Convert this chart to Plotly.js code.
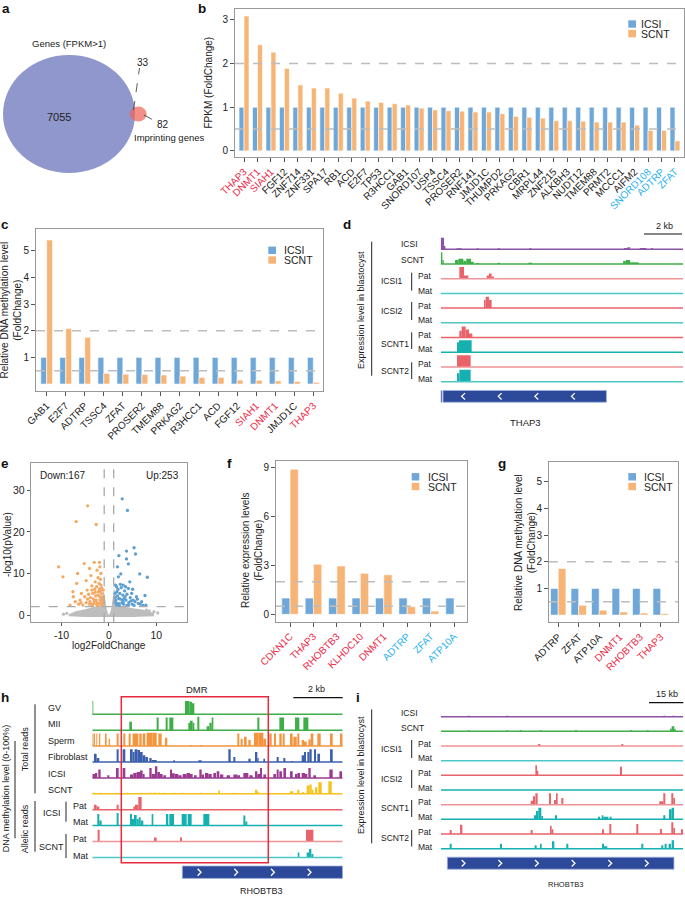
<!DOCTYPE html>
<html><head><meta charset="utf-8">
<script src="https://cdn.plot.ly/plotly-3.0.1.min.js"></script>
<style>html,body{margin:0;padding:0;background:#fff}#chart{width:685px;height:907px}</style>
</head><body><div id="chart"></div>
<script>
// ================= DATA =================
// a: Venn counts
const vennGenesOnly = 7055, vennOverlap = 33, vennImprintOnly = 82;

// b: FPKM fold change
const bGenes = ['THAP3','DNMT1','SIAH1','FGF12','ZNF714','ZNF331','SPA17','RB1','ACD','E2F7','TP53','R3HCC1','GAB1','SNORD107','USP4','TSSC4','PROSER2','RNF141','JMJD1C','THUMPD2','PRKAG2','CBR1','MRPL44','ZNF215','ALKBH3','NUDT12','TMEM88','PRMT2','MCCC1','AIFM2','SNORD108','ADTRP','ZFAT'];
const bICSI = [1,1,1,1,1,1,1,1,1,1,1,1,1,1,1,1,1,1,1,1,1,1,1,1,1,1,1,1,1,1,1,1,1];
const bSCNT = [3.09,2.43,2.26,1.89,1.51,1.44,1.44,1.32,1.21,1.14,1.11,1.08,1.05,0.98,0.94,0.92,0.91,0.89,0.89,0.85,0.79,0.77,0.75,0.69,0.69,0.68,0.66,0.66,0.66,0.59,0.47,0.47,0.23];
const bRed = ['THAP3','DNMT1','SIAH1'];
const bSky = ['SNORD108','ADTRP','ZFAT'];

// c: DNA methylation fold change
const cGenes = ['GAB1','E2F7','ADTRP','TSSC4','ZFAT','PROSER2','TMEM88','PRKAG2','R3HCC1','ACD','FGF12','SIAH1','DNMT1','JMJD1C','THAP3'];
const cICSI = [1,1,1,1,1,1,1,1,1,1,1,1,1,1,1];
const cSCNT = [5.4,2.08,1.75,0.4,0.37,0.36,0.34,0.3,0.25,0.25,0.15,0.14,0.12,0.1,0.07];
const cRed = ['SIAH1','DNMT1','THAP3'];

// f: relative expression
const fGenes = ['CDKN1C','THAP3','RHOBTB3','KLHDC10','DNMT1','ADTRP','ZFAT','ATP10A'];
const fICSI = [1,1,1,1,1,1,1,1];
const fSCNT = [8.9,3.07,2.97,2.52,2.43,0.47,0.2,0.03];
const fRed = ['CDKN1C','THAP3','RHOBTB3','KLHDC10','DNMT1'];
const fSky = ['ADTRP','ZFAT','ATP10A'];

// g: DNA methylation
const gGenes = ['ADTRP','ZFAT','ATP10A','DNMT1','RHOBTB3','THAP3'];
const gICSI = [1,1,1,1,1,1];
const gSCNT = [1.75,0.37,0.18,0.12,0.08,0.06];
const gRed = ['DNMT1','RHOBTB3','THAP3'];

// e: volcano
const downX = [-4.5,-6.9,-2.7,-10.6,-9.7,-6.6,-5.2,-3.1,-2.0,-4.1,-1.9,-1.7,-2.5,-4.8,-6.8,-7.6,-7.5,-7.1,-6.1,-5.1,-4.6,-3.6,-2.9,-2.6,-3.4,-2.2,-1.9,-2.7,-4.0,-2.0,-1.5,-1.3,-3.2,-4.8,-1.2,-1.7,-3.8,-2.3,-5.8,-6.4,-5.5,-3.5,-2.4,-1.4,-1.6,-2.8,-3.9,-4.3,-3.0,-2.1,-1.8,-4.5,-3.3,-2.5,-1.9,-1.4,-3.7,-5.9,-8.2,-2.9,-2.3,-1.6,-2.6,-3.1,-1.3,-4.1,-1.8,-1.5,-2.0,-3.6];
const downY = [26.3,22.5,21.8,11.6,9.2,10.0,12.4,12.7,12.7,11.2,11.6,10.0,10.8,8.3,7.6,5.6,4.4,3.2,3.6,4.4,6.0,7.0,8.0,6.8,5.2,5.6,4.4,3.6,3.2,2.8,3.2,4.4,2.8,3.0,6.0,7.2,9.5,9.0,5.2,2.6,2.4,2.3,2.2,2.4,5.2,4.6,4.2,5.0,6.2,7.6,8.6,3.8,3.9,3.0,3.6,2.9,2.6,3.0,2.4,5.5,4.8,4.1,2.5,3.4,3.6,2.6,5.8,6.5,6.3,6.0];
const upX = [2.8,3.9,5.3,3.7,5.6,2.1,3.7,4.1,1.8,6.5,8.1,2.0,2.5,1.6,3.0,4.1,4.8,5.8,7.6,6.9,6.2,5.1,3.4,2.3,1.5,2.0,3.0,4.1,1.3,4.4,1.4,1.9,2.6,3.3,3.8,4.5,5.5,6.6,7.2,1.6,2.4,2.9,3.6,4.2,4.9,5.3,1.3,1.8,2.2,3.1,3.8,1.4,2.7,2.4,3.5,5.0,1.7,2.9,4.6,6.0,7.8,3.2,2.1];
const upY = [28.0,25.2,16.2,15.4,14.7,14.3,13.5,12.3,11.6,9.9,9.1,9.2,9.9,6.8,7.2,6.4,5.2,4.4,4.7,3.2,2.8,3.6,4.4,5.2,3.6,2.8,3.2,2.4,5.2,8.0,7.2,6.2,6.6,5.8,5.0,4.2,3.2,2.6,2.3,2.4,3.8,4.8,3.6,3.0,2.6,2.3,4.2,4.6,2.3,2.6,2.3,3.0,2.9,7.4,6.8,6.2,5.6,3.6,3.4,3.8,2.4,4.0,4.0];
const nsCloudX = [-8.5,-7,-5,-3.5,-2,-1.5,-1.25,-1.05,-0.8,-0.5,-0.2,0,0.2,0.5,0.8,1.05,1.25,1.5,2,3.5,5,7,8.5,9.5,9.5,5,0,-5,-8.5];
const nsCloudY = [0.2,0.9,1.4,1.8,2.3,3.0,5.5,5.8,3.5,1.5,0.4,0,0.4,1.6,4.0,6.5,5.8,3.2,2.3,1.9,1.6,1.3,0.9,0.5,-0.3,-0.5,-0.5,-0.5,-0.3];
const nsPtsX = [7.9,8.5,9.5,10.3,-8.9,-9.6];
const nsPtsY = [1.2,1.0,0.8,0.5,0.4,0.2];

// d: THAP3 tracks [start, end, height] (bin units)
const dICSI = [[287,297,35],[297,301,10],[335,350,3],[395,401,3],[458,465,3],[553,560,3],[838,848,4],[848,856,6],[885,905,4],[918,925,3]];
const dSCNT = [[287,292,35],[292,296,12],[330,340,12],[340,355,16],[355,364,10],[364,378,16],[378,386,7],[395,402,3],[458,465,4],[550,562,4],[835,843,9],[843,856,12],[856,882,5]];
const dICSI1Pat = [[343,357,35],[357,370,10],[425,432,10],[432,440,16],[440,447,7]];
const dICSI1Mat = [];
const dICSI2Pat = [[417,422,24],[422,432,34],[432,440,24]];
const dICSI2Mat = [];
const dSCNT1Pat = [[343,350,20],[350,362,33],[362,372,24],[372,382,12]];
const dSCNT1Mat = [[336,342,30],[342,380,36]];
const dSCNT2Pat = [[336,377,35]];
const dSCNT2Mat = [[336,343,25],[343,377,36]];
const dGene = [[287,291],[294,785]];
const dChevrons = [355,465,575,685];

// h: RHOBTB3 methylation tracks
const hGV = [[277,280,40],[555,568,40],[568,576,38],[576,583,33]];
const hMII = [[388,396,25],[470,476,38],[497,503,38],[508,520,38],[565,570,22],[570,578,28],[578,583,22],[592,598,40],[620,628,12],[628,635,22],[635,640,38],[772,778,38],[838,852,38],[885,898,38],[910,925,38]];
const hSperm = [[277,280,38],[281,285,38],[289,292,38],[297,301,38],[315,320,38],[326,330,22],[350,356,38],[370,376,38],[386,392,38],[398,405,38],[405,415,38],[418,425,38],[428,436,38],[440,458,40],[458,470,40],[475,485,38],[495,502,25],[570,576,3],[600,606,3],[712,718,38],[722,728,22],[732,740,28],[745,752,18],[762,776,40],[776,790,40],[790,798,22],[808,815,38],[822,828,38],[838,845,38],[848,854,38],[870,878,38],[880,890,28],[892,898,38],[905,912,18],[912,920,14],[925,932,20],[932,940,38],[952,962,38],[990,998,38],[1020,1028,38]];
const hFibro = [[282,290,25],[290,298,12],[350,356,38],[368,376,38],[390,398,38],[398,404,30],[404,412,38],[412,420,36],[420,428,30],[428,436,20],[436,444,15],[448,455,12],[455,470,6],[520,525,5],[595,605,5],[685,692,38],[700,706,15],[745,752,10],[765,772,30],[772,776,12],[790,795,10],[830,836,15],[850,856,12],[872,878,3],[905,912,20],[912,918,30],[922,928,30],[928,935,38],[942,948,38],[952,960,25],[990,998,38]];
const hICSI = [[277,285,12],[285,292,15],[295,302,25],[322,328,8],[348,356,30],[368,376,30],[390,400,10],[400,410,15],[410,420,18],[420,428,22],[428,434,12],[448,455,30],[455,465,12],[465,472,35],[472,480,18],[480,488,12],[490,498,8],[510,516,25],[516,524,14],[524,535,12],[535,545,8],[548,560,12],[560,570,15],[570,578,12],[582,590,8],[598,605,25],[605,612,10],[615,625,15],[625,635,12],[640,648,15],[650,658,20],[660,670,10],[680,690,8],[700,712,10],[712,720,8],[730,745,15],[748,758,8],[765,772,20],[772,780,12],[780,786,30],[790,798,10],[820,828,12],[830,836,25],[838,846,20],[850,858,30],[870,878,20],[885,892,12],[892,900,15],[905,915,15],[915,922,12],[925,932,30],[940,948,8],[988,998,25],[1018,1026,20]];
const hSCNT = [[277,282,3],[300,305,3],[350,355,3],[380,385,3],[420,425,3],[445,455,3],[460,470,3],[475,480,3],[490,495,3],[520,525,3],[545,550,3],[600,605,3],[655,660,10],[700,705,3],[765,772,12],[772,778,5],[870,880,8],[892,898,12],[905,912,5],[920,928,25],[928,935,28],[935,940,12],[945,952,20],[955,965,35],[985,995,38]];
const hICSIPat = [[282,290,15],[290,298,10],[350,356,15],[400,405,10],[405,415,15],[415,425,38]];
const hICSIMat = [[292,298,35],[298,305,15],[350,356,38],[390,396,35],[396,402,20],[402,410,32],[410,416,20],[416,422,25],[422,430,15],[455,460,35],[498,505,35],[508,522,35],[545,560,35],[563,575,35],[610,628,35],[730,736,30],[736,742,12]];
const hSCNTPat = [[293,299,35],[462,470,12],[540,546,12],[918,940,35]];
const hSCNTMat = [[893,898,15],[920,927,15],[927,934,25],[934,940,10]];
const hGene = [[547,1028]];
const hChevrons = [598,708,818,928];

// i: RHOBTB3 expression tracks
const iICSI = [[368,374,3],[484,490,3],[955,962,3],[982,990,3]];
const iSCNT = [[368,374,3],[484,490,3],[524,530,3],[584,590,3],[690,696,3],[855,861,3],[905,911,3],[975,980,8],[980,988,15],[988,992,8]];
const iICSI1Pat = [[579,586,6],[829,835,6]];
const iICSI1Mat = [];
const iICSI2Pat = [[571,576,30],[576,580,14],[825,831,26]];
const iICSI2Mat = [];
const iSCNT1Pat = [[557,564,12],[564,570,25],[571,578,34],[612,618,34],[627,633,14],[633,638,34],[649,655,20],[943,955,10],[955,961,34],[979,985,34],[985,990,20]];
const iSCNT1Mat = [[567,573,12],[573,580,25],[580,589,35],[589,594,10],[630,636,12],[759,765,8],[770,775,12],[775,790,8],[794,800,8],[955,961,12],[972,980,30],[980,987,35]];
const iSCNT2Pat = [[314,320,12],[345,352,28],[557,563,12],[615,620,25],[620,625,14],[771,777,14],[793,799,30],[874,880,30],[945,951,15],[979,985,35],[985,990,18],[1008,1015,14]];
const iSCNT2Mat = [[314,320,15],[465,471,15],[569,575,10],[585,590,15],[621,628,22],[664,670,15],[771,777,15],[777,787,7],[889,895,15],[949,955,10],[959,965,15],[971,978,15],[980,987,25]];
const iGene = [[307,987]];
const iChevrons = [355,465,575,685,795,905];

// ================= STYLE / HELPERS =================
const W=685,H=907;
const PX=x=>x/W, PY=y=>1-y/H;
const FONT='Liberation Sans, Arial, Helvetica, sans-serif';
const RED='#ee2a48', SKY='#1fb1ee', BLUE='#6fa8d8', ORANGE='#f6b577', TXT='#222';
const PUR='#8b53a3', GRN='#3fae49', PAT='#e8636a', MAT='#17b0b0', PATL='#f09396', MATL='#4cc7c7', GENE='#2d4a9a';
const annotations=[], shapes=[], traces=[];
const layout={width:W,height:H,margin:{l:0,r:0,t:0,b:0},paper_bgcolor:'#fff',plot_bgcolor:'rgba(0,0,0,0)',barmode:'overlay',showlegend:false,font:{family:FONT,color:TXT,size:10}};

function A(text,x,y,o={}){annotations.push({text,x:PX(x),y:PY(y),xref:'paper',yref:'paper',showarrow:false,xanchor:o.xa||'center',yanchor:o.ya||'middle',textangle:o.angle||0,align:'center',borderpad:0,font:{family:FONT,size:o.size||10,color:o.color||TXT}});}
function L(x0,y0,x1,y1,color='#222',width=1,dash='solid'){shapes.push({type:'line',xref:'paper',yref:'paper',x0:PX(x0),y0:PY(y0),x1:PX(x1),y1:PY(y1),line:{color,width,dash}});}
function R(x0,y0,x1,y1,fill,lc,lw=0){shapes.push({type:'rect',xref:'paper',yref:'paper',x0:PX(x0),y0:PY(y0),x1:PX(x1),y1:PY(y1),fillcolor:fill,line:{color:lc||fill,width:lw}});}
function colorLabel(c,red,sky){ if(red&&red.includes(c)) return `<span style="color:${RED}">${c}</span>`; if(sky&&sky.includes(c)) return `<span style="color:${SKY}">${c}</span>`; return c; }

function barPanel(ax,cats,icsi,scnt,red,sky,w,dom,xr,yr,yticks){
  const xa='x'+ax, ya='y'+ax;
  traces.push({type:'bar',x:cats,y:icsi,xaxis:xa,yaxis:ya,width:w,offset:-w,marker:{color:BLUE,line:{color:'#ffffff',width:0.6}},hoverinfo:'skip'});
  traces.push({type:'bar',x:cats,y:scnt,xaxis:xa,yaxis:ya,width:w,offset:0,marker:{color:ORANGE,line:{color:'#ffffff',width:0.6}},hoverinfo:'skip'});
  const axCommon={showline:true,mirror:true,linecolor:'#999',linewidth:1,ticks:'outside',ticklen:4,tickcolor:'#555',showgrid:false,zeroline:false,fixedrange:true,tickfont:{family:FONT,size:10,color:TXT}};
  layout['xaxis'+ax]=Object.assign({},axCommon,{domain:[PX(dom[0]),PX(dom[1])],anchor:ya,type:'category',range:xr,tickmode:'array',tickvals:cats,ticktext:cats.map(c=>colorLabel(c,red,sky)),tickangle:-45});
  layout['yaxis'+ax]=Object.assign({},axCommon,{domain:[PY(dom[3]),PY(dom[2])],anchor:xa,range:yr,tickmode:'array',tickvals:yticks});
  [2,0.5].forEach(v=>shapes.push({type:'line',xref:xa+' domain',x0:0,x1:1,yref:ya,y0:v,y1:v,line:{color:'#bdbdbd',width:1.4,dash:'dash'}}));
}
function legendBox(x0,x1,yI,yS,tx,size){
  R(x0,yI-3.7,x1,yI+3.7,BLUE); R(x0,yS-3.7,x1,yS+3.7,ORANGE);
  A('ICSI',tx,yI,{xa:'left',size}); A('SCNT',tx,yS,{xa:'left',size});
}
function trackPanel(ax,tracks,colors,lineColors,xr,dom,yr,unit,gene,chev,dir,geneRow,geneHalf){
  const xa='x'+ax, ya='y'+ax;
  layout['xaxis'+ax]={domain:[PX(dom[0]),PX(dom[1])],range:xr,visible:false,anchor:ya,fixedrange:true};
  layout['yaxis'+ax]={domain:[PY(dom[3]),PY(dom[2])],range:yr,visible:false,anchor:xa,fixedrange:true};
  tracks.forEach((pk,i)=>{
    shapes.push({type:'line',xref:xa,yref:ya,x0:xr[0],x1:xr[1],y0:i,y1:i,line:{color:lineColors[i],width:1.5}});
    if(pk.length) traces.push({type:'bar',xaxis:xa,yaxis:ya,x:pk.map(p=>p[0]),width:pk.map(p=>p[1]-p[0]),offset:0,base:i,y:pk.map(p=>-p[2]/unit),marker:{color:colors[i],line:{width:0}},hoverinfo:'skip'});
  });
  traces.push({type:'bar',xaxis:xa,yaxis:ya,x:gene.map(g=>g[0]),width:gene.map(g=>g[1]-g[0]),offset:0,base:geneRow+geneHalf,y:gene.map(()=>-2*geneHalf),marker:{color:GENE,line:{color:'#9fb0e0',width:0.8}},hoverinfo:'skip'});
  const cx=[],cy=[];
  chev.forEach(c=>{cx.push(c-5*dir,c+5*dir,c-5*dir,null);cy.push(geneRow-0.22,geneRow,geneRow+0.22,null);});
  traces.push({type:'scatter',mode:'lines',xaxis:xa,yaxis:ya,x:cx,y:cy,line:{color:'#ffffff',width:1.3},hoverinfo:'skip'});
}

// ================= PANEL a: Venn =================
(function(){
  const k=66/Math.sqrt(vennGenesOnly+vennOverlap), asp=0.894;
  const rB=k*Math.sqrt(vennGenesOnly+vennOverlap), rS=k*Math.sqrt(vennImprintOnly+vennOverlap);
  const cBx=69,cBy=114,cSx=138.3,cSy=114;
  shapes.push({type:'circle',xref:'paper',yref:'paper',x0:PX(cBx-rB),x1:PX(cBx+rB),y0:PY(cBy+rB*asp),y1:PY(cBy-rB*asp),fillcolor:'#8f97cc',line:{width:0}});
  shapes.push({type:'circle',xref:'paper',yref:'paper',x0:PX(cSx-rS),x1:PX(cSx+rS),y0:PY(cSy+rS*asp),y1:PY(cSy-rS*asp),fillcolor:'rgba(240,100,90,0.72)',line:{width:0}});
  A('Genes (FPKM>1)',69,43,{size:9.5});
  A(String(vennGenesOnly),59,117,{size:11});
  A(String(vennOverlap),143,62,{size:10});
  A(String(vennImprintOnly),163,124,{size:10});
  A('Imprinting genes',133,137,{xa:'left',size:9.5});
  L(133.5,110,139.5,68,'#333',0.8,'dash');
  L(144,115,156,121.5,'#333',0.8,'dash');
})();

// ================= PANEL b =================
barPanel(2,bGenes,bICSI,bSCNT,bRed,bSky,0.37,[235,684,9,157],[-0.67,32.67],[-0.14,3.25],[0,1,2,3]);
A('FPKM (FoldChange)',208.5,83,{angle:-90,size:10});
legendBox(628.3,636,24,33.6,639.5,10.5);

// ================= PANEL c =================
barPanel(3,cGenes,cICSI,cSCNT,cRed,null,0.31,[36,323,229,391],[-0.56,14.51],[-0.26,5.81],[1,2,3,4,5]);
A('Relative DNA methylation level<br>(FoldChange)',10.5,310,{angle:-90,size:10});
legendBox(268.3,276,250.3,260,283,10.5);

// ================= PANEL f =================
barPanel(6,fGenes,fICSI,fSCNT,fRed,fSky,0.355,[276,466.7,460.7,621.7],[-0.6,7.54],[-0.45,9.43],[0,3,6,9]);
A('Relative expression levels<br>(FoldChange)',252,550,{angle:-90,size:10});
legendBox(411.7,419.3,476.8,486.5,426.7,10.5);

// ================= PANEL g =================
barPanel(7,gGenes,gICSI,gSCNT,gRed,null,0.375,[549,678.3,461.7,622.3],[-0.45,5.86],[-0.27,5.75],[1,2,3,4,5]);
A('Relative DNA methylation level<br>(FoldChange)',525,543,{angle:-90,size:10});
legendBox(628.3,636,476.8,486.5,642.7,10.5);

// ================= PANEL e: volcano =================
(function(){
  const xa='x5',ya='y5';
  traces.push({type:'scatter',mode:'lines',x:nsCloudX,y:nsCloudY,fill:'toself',fillcolor:'#bdbdbd',line:{width:0,color:'#bdbdbd'},xaxis:xa,yaxis:ya,hoverinfo:'skip'});
  traces.push({type:'scatter',mode:'markers',x:nsPtsX,y:nsPtsY,marker:{color:'#bdbdbd',size:3.2},xaxis:xa,yaxis:ya,hoverinfo:'skip'});
  traces.push({type:'scatter',mode:'markers',x:downX,y:downY,marker:{color:'#f5a862',size:3.3},xaxis:xa,yaxis:ya,hoverinfo:'skip'});
  traces.push({type:'scatter',mode:'markers',x:upX,y:upY,marker:{color:'#5d9fd3',size:3.3},xaxis:xa,yaxis:ya,hoverinfo:'skip'});
  const axC={showline:true,mirror:true,linecolor:'#999',linewidth:1,ticks:'outside',ticklen:3,tickcolor:'#555',showgrid:false,zeroline:false,fixedrange:true,tickfont:{family:FONT,size:10.5,color:TXT}};
  layout.xaxis5=Object.assign({},axC,{domain:[PX(30.7),PX(186.7)],anchor:ya,range:[-16.5,16.4],tickmode:'array',tickvals:[-10,0,10],ticktext:['-10','0','10']});
  layout.yaxis5=Object.assign({},axC,{domain:[PY(622.3),PY(463.3)],anchor:xa,range:[-1.76,36.55],tickmode:'array',tickvals:[0,10,20,30]});
  [-1,1].forEach(v=>shapes.push({type:'line',xref:xa,x0:v,x1:v,yref:ya+' domain',y0:0,y1:1,line:{color:'#aaaaaa',width:1.3,dash:'dash'}}));
  shapes.push({type:'line',xref:xa+' domain',x0:0,x1:1,yref:ya,y0:2,y1:2,line:{color:'#aaaaaa',width:1.3,dash:'dash'}});
  A('Down:167',63,475,{size:10}); A('Up:253',162,475,{size:10});
  A('log2FoldChange',109,645,{size:10});
  A('-log10(pValue)',7,545,{angle:-90,size:10});
})();

// ================= PANEL d =================
trackPanel(4,[dICSI,dSCNT,dICSI1Pat,dICSI1Mat,dICSI2Pat,dICSI2Mat,dSCNT1Pat,dSCNT1Mat,dSCNT2Pat,dSCNT2Mat],
  [PUR,GRN,PAT,MAT,PAT,MAT,PAT,MAT,PAT,MAT],[PUR,GRN,PATL,MATL,PAT,MATL,PAT,MAT,PATL,MATL],
  [287,1015],[440.7,683,234.6,404],[10.52,-1],44.1,dGene,dChevrons,-1,10.0,0.4);
(function(){
  const s=8.5;
  A('ICSI',400,244,{xa:'left',size:s}); A('SCNT',400,260.3,{xa:'left',size:s});
  [['ICSI1',281.3,276,290.7,272.7,290.7],['ICSI2',311,305.7,320,302,320],['SCNT1',344.3,335,349.3,332.3,349],['SCNT2',370.7,364.3,379.3,362.3,379]].forEach(r=>{
    A(r[0],379.7,r[1],{xa:'left',size:s}); A('Pat',417.3,r[2],{xa:'left',size:s}); A('Mat',417.3,r[3],{xa:'left',size:s});
    L(411.7,r[4],411.7,r[5],'#222',1);
  });
  L(371.7,241.7,371.7,375.7,'#222',1);
  A('Expression level in blastocyst',361,310,{angle:-90,size:9});
  A('THAP3',525,422.7,{size:9.5});
  L(644,234,682,234,'#111',1.2); A('2 kb',664,226,{size:9});
})();

// ================= PANEL h =================
trackPanel(8,[hGV,hMII,hSperm,hFibro,hICSI,hSCNT,hICSIPat,hICSIMat,hSCNTPat,hSCNTMat],
  [GRN,GRN,'#f4943c','#3b5fae','#9a3b8f','#f5c21b',PAT,MAT,PAT,MAT],[GRN,GRN,'#f4943c','#3b5fae','#9a3b8f','#f5c21b',PAT,MAT,PATL,MATL],
  [277,1028],[92.3,342.7,698.4,880],[10.42,-1],47.7,hGene,hChevrons,1,9.93,0.39);
(function(){
  const s=9;
  [['GV',707.7],['MII',724.3],['Sperm',741],['Fibroblast',757.3],['ICSI',773.7],['SCNT',790.3]].forEach(r=>A(r[0],47.3,r[1],{xa:'left',size:s}));
  A('ICSI',51.7,813,{size:s}); A('Pat',71.7,805.7,{xa:'left',size:s}); A('Mat',71.7,822.3,{xa:'left',size:s});
  A('SCNT',51,846.7,{size:s}); A('Pat',71.7,839,{xa:'left',size:s}); A('Mat',71.7,855.7,{xa:'left',size:s});
  L(66,801.7,66,821.7,'#222',1); L(66,834,66,858,'#222',1);
  L(35,704.3,35,793.3,'#222',1); L(35,801,35,851.7,'#222',1); L(15,741,15,838.3,'#222',1);
  A('Total reads',25,748.3,{angle:-90,size:s});
  A('Allelic reads',25,828.3,{angle:-90,size:s});
  A('DNA methylation level (0-100%)',6,788.3,{angle:-90,size:s});
  shapes.push({type:'rect',xref:'paper',yref:'paper',x0:PX(121.3),x1:PX(268.3),y0:PY(862.7),y1:PY(696.7),line:{color:'#e8283c',width:1.5},fillcolor:'rgba(0,0,0,0)'});
  A('DMR',196.7,689.3,{size:9.5});
  L(293.3,697.7,342.7,697.7,'#111',1.2); A('2 kb',316,689.3,{size:9});
  A('RHOBTB3',261.7,891,{size:9});
})();

// ================= PANEL i =================
trackPanel(9,[iICSI,iSCNT,iICSI1Pat,iICSI1Mat,iICSI2Pat,iICSI2Mat,iSCNT1Pat,iSCNT1Mat,iSCNT2Pat,iSCNT2Mat],
  [PUR,GRN,PAT,MAT,PAT,MAT,PAT,MAT,PAT,MAT],[PUR,GRN,PATL,MATL,PAT,MAT,PATL,MAT,PAT,MAT],
  [287,1015],[440.7,683.3,702,872],[10.59,-1],44,iGene,iChevrons,1,9.99,0.41);
(function(){
  const s=8.5;
  A('ICSI',400,712.7,{xa:'left',size:s}); A('SCNT',400,727.7,{xa:'left',size:s});
  [['ICSI1',749,744,758.3,740,758],['ICSI2',778.5,773.3,787.7,770,788],['SCNT1',808,802.3,817,800,817],['SCNT2',838,831.7,846.7,830,846.5]].forEach(r=>{
    A(r[0],379.7,r[1],{xa:'left',size:s}); A('Pat',417.3,r[2],{xa:'left',size:s}); A('Mat',417.3,r[3],{xa:'left',size:s});
    L(411.7,r[4],411.7,r[5],'#222',1);
  });
  L(371.7,709.3,371.7,843.3,'#222',1);
  A('Expression level in blastocyst',361,775,{angle:-90,size:9});
  L(649,702.7,683.3,702.7,'#111',1.2); A('15 kb',666.7,694,{size:9});
  A('RHOBTB3',565,884,{size:7.5});
})();

// panel letters
[['a',6,9],['b',201.7,8.5],['c',4.5,225],['d',347,224],['e',5,463],['f',230,463],['g',501.7,463.3],['h',4.5,697.3],['i',358.3,697.3]].forEach(p=>A('<b>'+p[0]+'</b>',p[1],p[2],{size:13.5,color:'#111'}));

layout.annotations=annotations; layout.shapes=shapes;
Plotly.newPlot('chart',traces,layout,{displayModeBar:false,staticPlot:true});
</script></body></html>
